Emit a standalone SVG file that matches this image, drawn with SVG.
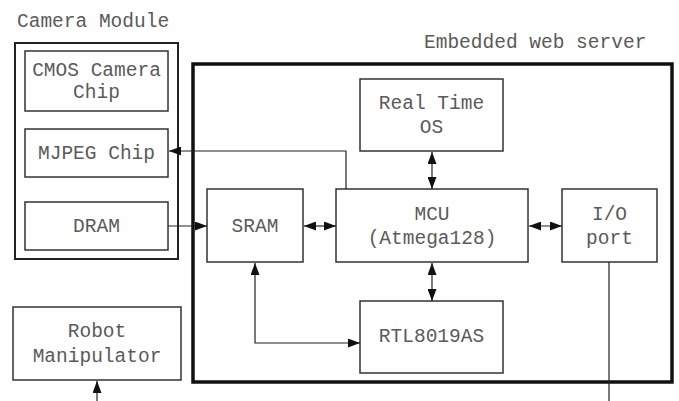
<svg xmlns="http://www.w3.org/2000/svg" width="679" height="401" viewBox="0 0 679 401">
<style>
.box{fill:#fff;stroke:#333;stroke-width:1.5}
.t{font-family:"Liberation Mono","Courier New",monospace;font-size:19.5px;fill:#5a5a5a;text-anchor:middle}
.l{fill:none;stroke:#222;stroke-width:1.2}
</style>
<defs>
<marker id="a" viewBox="0 0 12 9" refX="12" refY="4.5" markerWidth="12" markerHeight="9" markerUnits="userSpaceOnUse" orient="auto-start-reverse"><path d="M0,0L12,4.5L0,9z" fill="#111"/></marker>
</defs>
<rect width="679" height="401" fill="#fff"/>
<g id="camera-module">
<rect x="15" y="43" width="163" height="216" fill="none" stroke="#222" stroke-width="2"/>
<text class="t" x="17" y="27" style="text-anchor:start">Camera Module</text>
</g>
<g id="web-server">
<rect x="193" y="64" width="479" height="318" fill="none" stroke="#111" stroke-width="3.5"/>
<text class="t" x="424" y="48" style="text-anchor:start">Embedded web server</text>
</g>
<g id="cmos"><rect class="box" x="25" y="51" width="143" height="60"/><text class="t" x="96.5" y="76">CMOS Camera</text><text class="t" x="96.5" y="98">Chip</text></g>
<g id="mjpeg"><rect class="box" x="25" y="129" width="143" height="48"/><text class="t" x="96.5" y="159">MJPEG Chip</text></g>
<g id="dram"><rect class="box" x="25" y="202" width="143" height="48"/><text class="t" x="96.5" y="232">DRAM</text></g>
<g id="rtos"><rect class="box" x="360" y="79" width="143" height="72"/><text class="t" x="431.5" y="109">Real Time</text><text class="t" x="431.5" y="133">OS</text></g>
<g id="sram"><rect class="box" x="207" y="189" width="96" height="73"/><text class="t" x="255" y="232">SRAM</text></g>
<g id="mcu"><rect class="box" x="336" y="189" width="192" height="73"/><text class="t" x="432" y="220">MCU</text><text class="t" x="432" y="244">(Atmega128)</text></g>
<g id="io"><rect class="box" x="562" y="189" width="95" height="73"/><text class="t" x="609.5" y="220">I/O</text><text class="t" x="609.5" y="244">port</text></g>
<g id="rtl"><rect class="box" x="360" y="301" width="143" height="72"/><text class="t" x="431.5" y="342">RTL8019AS</text></g>
<g id="robot"><rect class="box" x="13" y="307" width="168" height="73"/><text class="t" x="97" y="337">Robot</text><text class="t" x="97" y="362">Manipulator</text></g>
<g id="connectors">
<path class="l" d="M346,189V151H169" marker-end="url(#a)"/>
<path class="l" d="M168,226H207" marker-end="url(#a)"/>
<path class="l" d="M304,226H336" marker-start="url(#a)" marker-end="url(#a)"/>
<path class="l" d="M529,226H562" marker-start="url(#a)" marker-end="url(#a)"/>
<path class="l" d="M432,152V189" marker-start="url(#a)" marker-end="url(#a)"/>
<path class="l" d="M432,263V301" marker-start="url(#a)" marker-end="url(#a)"/>
<path class="l" d="M255,263V343H360" marker-start="url(#a)" marker-end="url(#a)"/>
<path class="l" d="M609,262V401"/>
<path class="l" d="M97,401V381" marker-end="url(#a)"/>
</g>
</svg>
